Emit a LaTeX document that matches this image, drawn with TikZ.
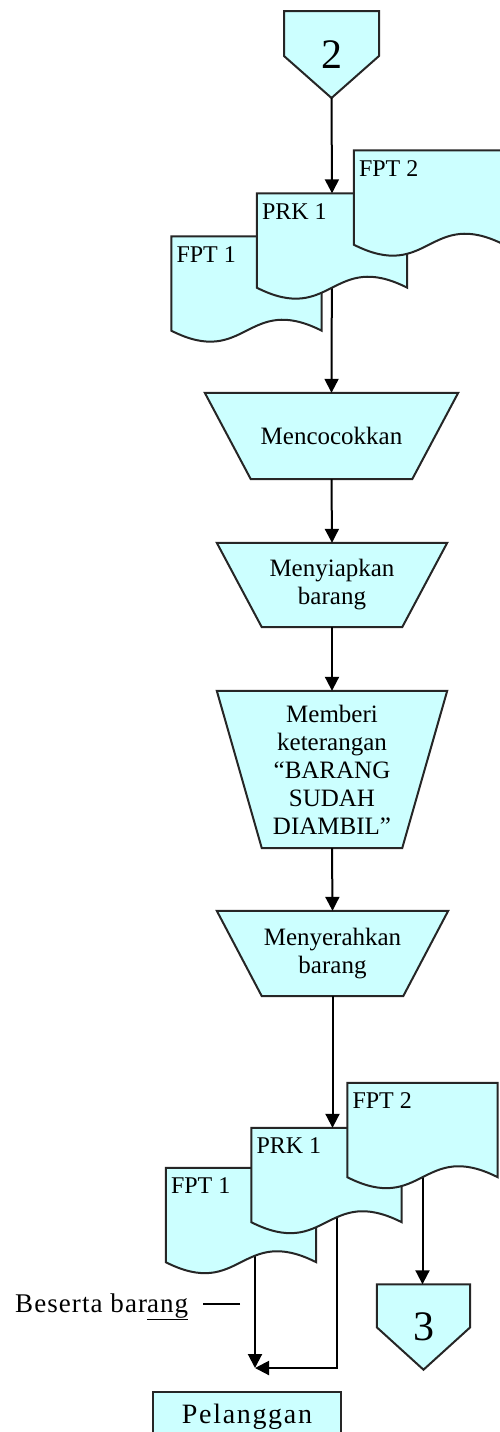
\documentclass[tikz,border=0pt]{standalone}
\usepackage{fontspec}
\setmainfont{Liberation Serif}
\usepackage{tikz}
\usetikzlibrary{arrows.meta,positioning,calc,backgrounds}

\definecolor{docfill}{RGB}{204,255,255}

% document symbol: invisible box, wavy outline, label top left
\newcommand{\docshape}[4]{%
  \node[docbox] (#1) at (#2,#3) {};
  \filldraw[shapeline] (#1.north west) -- (#1.north east) -- (#1.south east)
    .. controls ($(#1.south)+(0,-38)$) and ($(#1.south)+(0,38)$) .. (#1.south west) -- cycle;
  \node[doclabel] (#1-label) at ($(#1.north west)+(5,26)$) {#4};
}
% manual operation (trapezoid) behind a named text node
\newcommand{\manualop}[2]{%
  \begin{pgfonlayer}{background}
    \filldraw[shapeline] (#1.north west) -- (#1.north east) -- ($(#1.south east)+(-#2,0)$) -- ($(#1.south west)+(#2,0)$) -- cycle;
  \end{pgfonlayer}}
% off-page connector
\newcommand{\offpage}[2]{%
  \begin{pgfonlayer}{background}
    \filldraw[shapeline] (#1.north west) -- (#1.north east) -- ($(#1.north east)+(0,#2)$) -- (#1.south) -- ($(#1.north west)+(0,#2)$) -- cycle;
  \end{pgfonlayer}}

\begin{document}
\begin{tikzpicture}[x=1pt, y=-1pt, line width=2pt,
    arr/.style={line width=2pt, -{Triangle[width=14pt,length=14pt]}},
    shapeline/.style={draw=black!85, fill=docfill, line width=2pt, line join=miter},
    docbox/.style={rectangle, draw=none, inner sep=0, minimum width=150, minimum height=94},
    doclabel/.style={anchor=base west, inner sep=0, font=\fontsize{24}{26}\selectfont},
    proc/.style={rectangle, draw=none, inner sep=0, align=center, font=\fontsize{25}{28}\selectfont},
    conn/.style={rectangle, draw=none, inner sep=0, minimum width=93, minimum height=85, font=\fontsize{42}{44}\selectfont},
    pelbox/.style={rectangle, draw=black!85, line width=2pt, fill=docfill, minimum width=188, minimum height=50, font=\fontsize{28}{30}\selectfont\addfontfeature{LetterSpace=6}},
    note/.style={inner sep=0, font=\fontsize{27}{30}\selectfont\addfontfeature{LetterSpace=4}}]
  \useasboundingbox (0,0) rectangle (499,1432);

  % connector 2
  \node[conn] (c2) at (331.5,54.5) {2};
  \offpage{c2}{45}

  % documents, top
  \docshape{fpt1}{246.5}{283.5}{FPT 1}
  \docshape{prk1}{332}{240.5}{PRK 1}
  \docshape{fpt2}{429}{197.5}{FPT 2}

  % process steps
  \node[proc, minimum width=253, minimum height=86] (cocok) at (331.5,436) {Mencocokkan};
  \manualop{cocok}{46}
  \node[proc, minimum width=230, minimum height=84] (siap) at (332,585) {Menyiapkan\\barang};
  \manualop{siap}{45}
  \node[proc, minimum width=230, minimum height=157] (beri) at (332,769.5) {Memberi\\keterangan\\“BARANG\\SUDAH\\DIAMBIL”};
  \manualop{beri}{45}
  \node[proc, minimum width=231, minimum height=85] (serah) at (332.5,953.5) {Menyerahkan\\barang};
  \manualop{serah}{45}

  % documents, bottom
  \docshape{fpt1b}{241}{1215}{FPT 1}
  \docshape{prk1b}{326.5}{1175}{PRK 1}
  \docshape{fpt2b}{422.5}{1130}{FPT 2}

  % connector 3
  \node[conn] (c3) at (423.5,1327) {3};
  \offpage{c3}{43}

  % customer
  \node[pelbox] (pelanggan) at (247,1417) {Pelanggan};
  \node[note, anchor=base west] (beserta) at (15,1312) {Beserta bar\underline{ang}};
  \coordinate (dashend) at (240,1304);
  \draw[line width=1.4pt] (dashend) -- ++(-37,0);

  % flow
  \coordinate (merge) at (255,1368);
  \coordinate (prkout) at (337,1175);
  \draw[arr] (c2.south) -- (prk1.north);
  \draw[arr] (cocok.south) -- (siap.north);
  \draw[arr] (siap.south) -- (beri.north);
  \draw[arr] (beri.south) -- (serah.north);
  \draw[arr] (serah.south) -- (serah.south |- prk1b.north);
  \begin{scope}[on background layer]
    \draw[arr] (prk1.center) -- (cocok.north);
    \draw[arr] (merge |- fpt1b.center) -- (merge);
    \draw[arr] (prkout) |- (merge);
    \draw[arr] (fpt2b.center) -- (fpt2b.center |- c3.north);
  \end{scope}
\end{tikzpicture}
\end{document}
